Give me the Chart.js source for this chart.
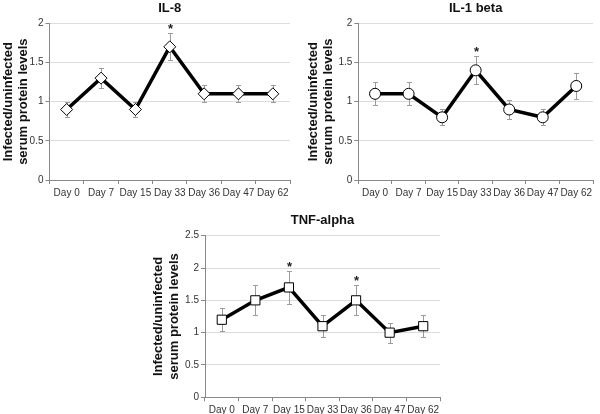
<!DOCTYPE html>
<html lang="en">
<head>
<meta charset="UTF-8">
<title>Infected/uninfected serum protein levels</title>
<script src="https://cdn.jsdelivr.net/npm/chart.js@4.4.0/dist/chart.umd.min.js"></script>
<style>
    * { margin: 0; padding: 0; box-sizing: border-box; }
    body {
        background: #fff;
        width: 600px;
        height: 414px;
        position: relative;
        overflow: hidden;
    }
    canvas { position: absolute; }
    #il8Chart { left: 0; top: 0; }
    #il1Chart { left: 300px; top: 0; }
    #tnfChart { left: 150px; top: 200px; }
</style>
</head>
<body>
<canvas id="il8Chart" width="300" height="207"></canvas>
<canvas id="il1Chart" width="300" height="207"></canvas>
<canvas id="tnfChart" width="300" height="214"></canvas>

<script>
    // data
    const days = ['Day 0', 'Day 7', 'Day 15', 'Day 33', 'Day 36', 'Day 47', 'Day 62'];

    const il8Values = [0.9, 1.3, 0.9, 1.7, 1.1, 1.1, 1.1];
    const il8Errors = [0.09, 0.13, 0.09, 0.17, 0.11, 0.11, 0.11];
    const il8Stars  = [false, false, false, true, false, false, false];

    const il1Values = [1.1, 1.1, 0.8, 1.4, 0.9, 0.8, 1.2];
    const il1Errors = [0.145, 0.145, 0.1, 0.18, 0.12, 0.1, 0.16];
    const il1Stars  = [false, false, false, true, false, false, false];

    const tnfValues = [1.2, 1.5, 1.7, 1.1, 1.5, 1.0, 1.1];
    const tnfErrors = [0.18, 0.23, 0.26, 0.17, 0.23, 0.155, 0.17];
    const tnfStars  = [false, false, true, false, true, false, false];

    const yAxisTitle = ['Infected/uninfected', 'serum protein levels'];
    const FONT = '"Liberation Sans", Arial, Helvetica, sans-serif';

    // error bars + significance stars
    const errorBars = {
        id: 'errorBars',
        beforeDatasetsDraw(chart, args, opts) {
            const ctx = chart.ctx;
            const x = chart.scales.x, y = chart.scales.y;
            const vals = chart.data.datasets[0].data;
            ctx.save();
            ctx.strokeStyle = '#9b9b9b';
            ctx.lineWidth = 1;
            vals.forEach((v, i) => {
                const px = Math.round(x.getPixelForValue(i)) + 0.5;
                const top = Math.round(y.getPixelForValue(v + opts.errors[i])) + 0.5;
                const bot = Math.round(y.getPixelForValue(v - opts.errors[i])) + 0.5;
                ctx.beginPath();
                ctx.moveTo(px, top); ctx.lineTo(px, bot);
                ctx.moveTo(px - 2.5, top); ctx.lineTo(px + 2.5, top);
                ctx.moveTo(px - 2.5, bot); ctx.lineTo(px + 2.5, bot);
                ctx.stroke();
                if (opts.stars[i]) {
                    ctx.fillStyle = '#222';
                    ctx.font = 'bold 13px ' + FONT;
                    ctx.textAlign = 'center';
                    ctx.textBaseline = 'alphabetic';
                    ctx.fillText('*', px, top - 1);
                }
            });
            ctx.restore();
        }
    };

    function makeChart(id, title, values, errors, stars, cfg) {
        new Chart(document.getElementById(id), {
            type: 'line',
            data: {
                labels: days,
                datasets: [{
                    data: values,
                    borderColor: '#000',
                    borderWidth: 3.5,
                    tension: 0,
                    pointStyle: cfg.pointStyle,
                    pointRadius: cfg.radius,
                    pointBackgroundColor: '#fff',
                    pointBorderColor: '#000',
                    pointBorderWidth: 1
                }]
            },
            options: {
                responsive: false,
                animation: false,
                layout: { padding: { right: cfg.padRight, top: 0, left: 0, bottom: 0 } },
                plugins: {
                    legend: { display: false },
                    tooltip: { enabled: false },
                    title: {
                        display: true,
                        text: title,
                        fullSize: false,
                        color: '#111',
                        font: { family: FONT, size: 13, weight: 'bold' },
                        padding: { top: cfg.titleTop, bottom: cfg.titleBottom }
                    },
                    errorBars: { errors: errors, stars: stars }
                },
                scales: {
                    x: {
                        offset: true,
                        grid: {
                            offset: true,
                            drawOnChartArea: false,
                            color: '#888',
                            tickLength: 4
                        },
                        border: { color: '#888', width: 1 },
                        ticks: {
                            color: '#333',
                            padding: 3,
                            maxRotation: 0,
                            autoSkip: false,
                            font: { family: FONT, size: 10 }
                        },
                        afterFit(scale) { scale.height = cfg.xHeight; }
                    },
                    y: {
                        min: 0,
                        max: cfg.yMax,
                        grid: {
                            color: '#dcdcdc',
                            tickColor: '#888',
                            tickLength: 4
                        },
                        border: { color: '#888', width: 1 },
                        ticks: {
                            stepSize: 0.5,
                            color: '#333',
                            padding: 2,
                            font: { family: FONT, size: 10 },
                            callback: (value) => String(value)
                        },
                        title: {
                            display: true,
                            text: yAxisTitle,
                            color: '#111',
                            font: { family: FONT, size: 13, weight: 'bold', lineHeight: 1.2 },
                            padding: { top: cfg.yTitlePad, bottom: 0 }
                        },
                        afterFit(scale) { scale.width = cfg.yWidth; }
                    }
                }
            },
            plugins: [errorBars]
        });
    }

    makeChart('il8Chart', 'IL-8', il8Values, il8Errors, il8Stars, {
        yMax: 2, pointStyle: 'rectRot', radius: 6,
        yWidth: 49.5, xHeight: 27, padRight: 10,
        titleTop: 1, titleBottom: 6.7, yTitlePad: 0.5
    });

    makeChart('il1Chart', 'IL-1 beta', il1Values, il1Errors, il1Stars, {
        yMax: 2, pointStyle: 'circle', radius: 5.5,
        yWidth: 58.3, xHeight: 27, padRight: 7,
        titleTop: 1, titleBottom: 6.7, yTitlePad: 5.5
    });

    makeChart('tnfChart', 'TNF-alpha', tnfValues, tnfErrors, tnfStars, {
        yMax: 2.5, pointStyle: 'rect', radius: 6.5,
        yWidth: 55, xHeight: 16.7, padRight: 10,
        titleTop: 12.9, titleBottom: 7.2, yTitlePad: 0.8
    });
</script>
</body>
</html>
